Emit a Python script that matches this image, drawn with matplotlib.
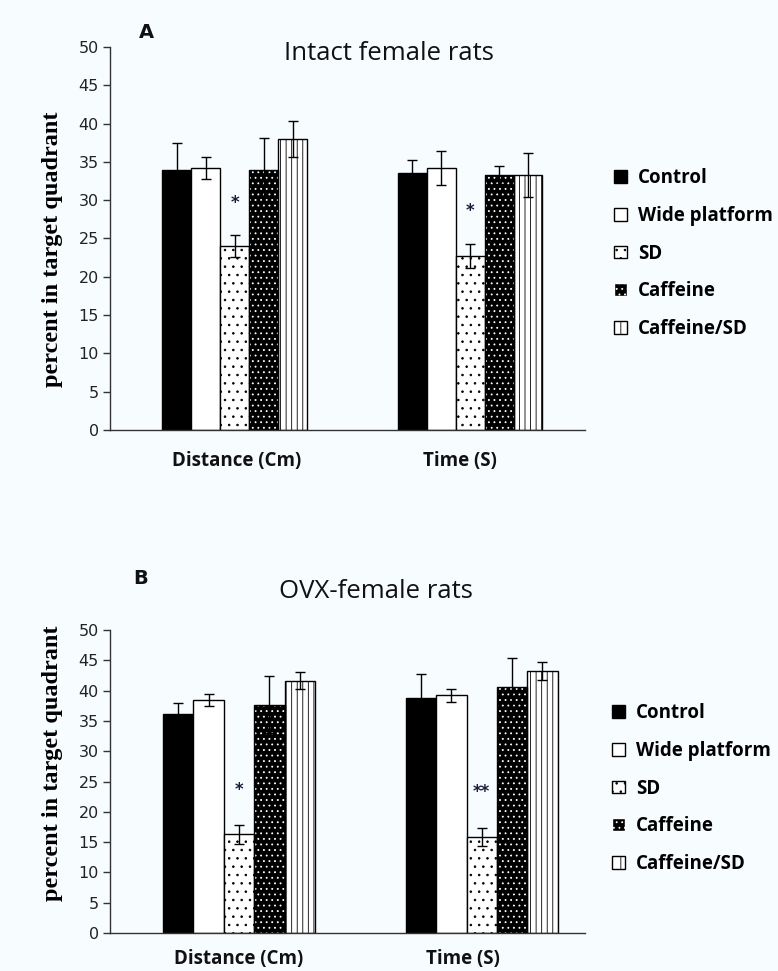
import matplotlib
matplotlib.use('Agg')
import matplotlib.pyplot as plt
from matplotlib.patches import Patch
import numpy as np

# ---------------- data ----------------
categories = ['Distance (Cm)', 'Time (S)']
groups = ['Control', 'Wide platform', 'SD', 'Caffeine', 'Caffeine/SD']

intact_control = [34.0, 33.6]
intact_control_err = [3.5, 1.6]
intact_wide = [34.2, 34.2]
intact_wide_err = [1.4, 2.2]
intact_sd = [24.0, 22.7]
intact_sd_err = [1.4, 1.6]
intact_caff = [34.0, 33.3]
intact_caff_err = [4.1, 1.2]
intact_caffsd = [38.0, 33.3]
intact_caffsd_err = [2.4, 2.9]
intact_star_text = ['*', '*']
intact_star_y = [29.6, 28.6]

ovx_control = [36.1, 38.8]
ovx_control_err = [1.8, 3.9]
ovx_wide = [38.4, 39.2]
ovx_wide_err = [1.0, 1.0]
ovx_sd = [16.3, 15.8]
ovx_sd_err = [1.6, 1.5]
ovx_caff = [37.7, 40.6]
ovx_caff_err = [4.7, 4.7]
ovx_caffsd = [41.6, 43.2]
ovx_caffsd_err = [1.4, 1.5]
ovx_star_text = ['*', '**']
ovx_star_y = [23.6, 23.3]

yticks = [0, 5, 10, 15, 20, 25, 30, 35, 40, 45, 50]

# ---------------- figure ----------------
plt.rcParams['hatch.linewidth'] = 0.6
W, H = 778, 971
BG = '#f7fcff'
fig = plt.figure(figsize=(W / 100, H / 100), dpi=100, facecolor=BG)

SANS = 'Open Sans'
ylab_font = dict(family='Liberation Serif', weight='bold', size=17.5)


def px_axes(left, top, right, bottom):
    return fig.add_axes([left / W, 1 - bottom / H, (right - left) / W, (bottom - top) / H])


def draw_panel(ax, vals, errs, stars_txt, stars_y, width, xlim):
    ax.set_facecolor(BG)
    x = np.arange(len(categories))
    offs = [(i - 2) * width for i in range(5)]
    lw = 1.0
    ekw = dict(ecolor='black', elinewidth=1.0, capsize=3.8, capthick=1.0)
    # Control
    ax.bar(x + offs[0], vals[0], width, color='black', edgecolor='black', linewidth=lw, zorder=2)
    # Wide platform
    ax.bar(x + offs[1], vals[1], width, color='white', edgecolor='black', linewidth=lw, zorder=2)
    # SD
    ax.bar(x + offs[2], vals[2], width, color='white', edgecolor='black', hatch='..', linewidth=lw, zorder=2)
    # Caffeine (black with white dots)
    ax.bar(x + offs[3], vals[3], width, color='black', edgecolor='white', hatch='...', linewidth=0, zorder=2)
    ax.bar(x + offs[3], vals[3], width, fill=False, edgecolor='black', linewidth=lw, zorder=2.1)
    # Caffeine/SD
    ax.bar(x + offs[4], vals[4], width, color='white', edgecolor='black', hatch='|||', linewidth=lw, zorder=2)
    for i in range(5):
        ax.errorbar(x + offs[i], vals[i], yerr=errs[i], fmt='none', zorder=3, **ekw)
    for j in range(len(categories)):
        ax.text(x[j] + offs[2], stars_y[j], stars_txt[j], ha='center', va='center',
                fontsize=12, fontweight='bold', color='#1c1c3c', family='DejaVu Sans', zorder=4)
    ax.set_xlim(*xlim)
    ax.set_ylim(0, 50)
    ax.set_yticks(yticks)
    ax.set_xticks([])
    for s in ['top', 'right']:
        ax.spines[s].set_visible(False)
    for s in ['left', 'bottom']:
        ax.spines[s].set_color('#333333')
        ax.spines[s].set_linewidth(1.0)
    ax.tick_params(axis='y', direction='out', length=5, width=1, colors='#333333',
                   labelsize=11.5, pad=3)
    for lab in ax.get_yticklabels():
        lab.set_family('DejaVu Sans')
        lab.set_color('#222222')


def legend_handles():
    return [
        Patch(facecolor='black', edgecolor='black'),
        Patch(facecolor='white', edgecolor='black'),
        Patch(facecolor='white', edgecolor='black', hatch='..'),
        Patch(facecolor='black', edgecolor='white', hatch='...'),
        Patch(facecolor='white', edgecolor='black', hatch='||'),
    ]


# ---------- panel A ----------
axA = px_axes(110, 47, 585, 430)
draw_panel(axA,
           [intact_control, intact_wide, intact_sd, intact_caff, intact_caffsd],
           [intact_control_err, intact_wide_err, intact_sd_err, intact_caff_err, intact_caffsd_err],
           intact_star_text, intact_star_y, 0.123, (-0.529, 1.488))

# ---------- panel B ----------
axB = px_axes(110, 630, 585, 933)
draw_panel(axB,
           [ovx_control, ovx_wide, ovx_sd, ovx_caff, ovx_caffsd],
           [ovx_control_err, ovx_wide_err, ovx_sd_err, ovx_caff_err, ovx_caffsd_err],
           ovx_star_text, ovx_star_y, 0.125, (-0.5315, 1.4256))


def fx(px):
    return px / W


def fy(py):
    return 1 - py / H


# category labels
for cx, lab in zip([237, 460], categories):
    fig.text(fx(cx), fy(461), lab, ha='center', va='center', family=SANS,
             fontweight='bold', fontsize=13.5, color='#111111')
for cx, lab in zip([239, 463], categories):
    fig.text(fx(cx), fy(959), lab, ha='center', va='center', family=SANS,
             fontweight='bold', fontsize=13.5, color='#111111')

# titles / panel letters
fig.text(fx(389), fy(54), 'Intact female rats', ha='center', va='center',
         family=SANS, fontsize=18.5, color='#111111')
fig.text(fx(376), fy(592), 'OVX-female rats', ha='center', va='center',
         family=SANS, fontsize=18.5, color='#111111')
fig.text(fx(146), fy(33), 'A', ha='center', va='center', family='DejaVu Sans',
         fontweight='bold', fontsize=14, color='#111111')
fig.text(fx(141), fy(578), 'B', ha='center', va='center', family='DejaVu Sans',
         fontweight='bold', fontsize=14, color='#111111')

# y labels
fig.text(fx(53), fy(249), 'percent in target quadrant', rotation=90, ha='center',
         va='center', **ylab_font)
fig.text(fx(53), fy(763), 'percent in target quadrant', rotation=90, ha='center',
         va='center', **ylab_font)

# legends
for top_y, left_x in [(168, 614), (703, 612)]:
    fig.legend(legend_handles(), groups, loc='upper left',
               bbox_to_anchor=(fx(left_x), fy(top_y)), frameon=False,
               prop=dict(family=SANS, weight='bold', size=13.5),
               handlelength=0.68, handleheight=0.68, handletextpad=0.6,
               labelspacing=0.95, borderpad=0, borderaxespad=0)

fig.savefig('out.png', dpi=100, facecolor=BG)
